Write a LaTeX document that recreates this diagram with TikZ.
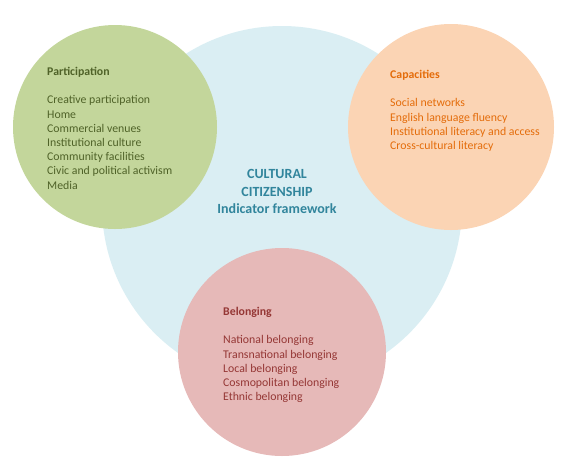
\documentclass[tikz,border=0pt]{standalone}
\usepackage{fontspec}
\setmainfont{Carlito}
\usepackage{tikz}
\usetikzlibrary{positioning}
\definecolor{skyfill}{HTML}{DAEEF3}
\definecolor{olivefill}{HTML}{C3D69B}
\definecolor{peachfill}{HTML}{FBD4B4}
\definecolor{rosefill}{HTML}{E6B9B8}
\definecolor{olivetext}{HTML}{4F6228}
\definecolor{orangetext}{HTML}{E46C0A}
\definecolor{rosetext}{HTML}{953735}
\definecolor{skytext}{HTML}{31859C}

\begin{document}
\begin{tikzpicture}[
    x=1pt, y=-1pt,
    bubble/.style={circle, draw=none, inner sep=0pt},
    items/.style={
        align=left,
        anchor=north west,
        inner sep=0pt,
        font=\fontsize{11.8}{14.2}\selectfont,
    },
    ctitle/.style={
        align=center,
        inner sep=0pt,
        text=skytext,
        font=\fontsize{14}{17.8}\selectfont\bfseries,
    }
]
\useasboundingbox (0,0) rectangle (572,464);

\node[bubble, fill=skyfill, minimum size=360pt] (CC) at (282,206) {};
\node[bubble, fill=olivefill, minimum size=204pt] (PA) at (115,127) {};
\node[bubble, fill=peachfill, minimum size=206pt] (CA) at (451,127) {};
\node[bubble, fill=rosefill, minimum size=208pt] (BE) at (282,352) {};

\node[ctitle] (CCt) at (277,191.5) {CULTURAL\\ CITIZENSHIP\\ Indicator framework};

\node[items, text=olivetext] (PAt) at (47,67) {%
  \textbf{Participation}\\[14.2pt]
  Creative participation\\
  Home\\
  Commercial venues\\
  Institutional culture\\
  Community facilities\\
  Civic and political activism\\
  Media%
};
\node[items, text=orangetext] (CAt) at (390,70) {%
  \textbf{Capacities}\\[14.2pt]
  Social networks\\
  English language fluency\\
  Institutional literacy and access\\
  Cross-cultural literacy%
};
\node[items, text=rosetext] (BEt) at (223,307) {%
  \textbf{Belonging}\\[14.2pt]
  National belonging\\
  Transnational belonging\\
  Local belonging\\
  Cosmopolitan belonging\\
  Ethnic belonging%
};
\end{tikzpicture}
\end{document}
